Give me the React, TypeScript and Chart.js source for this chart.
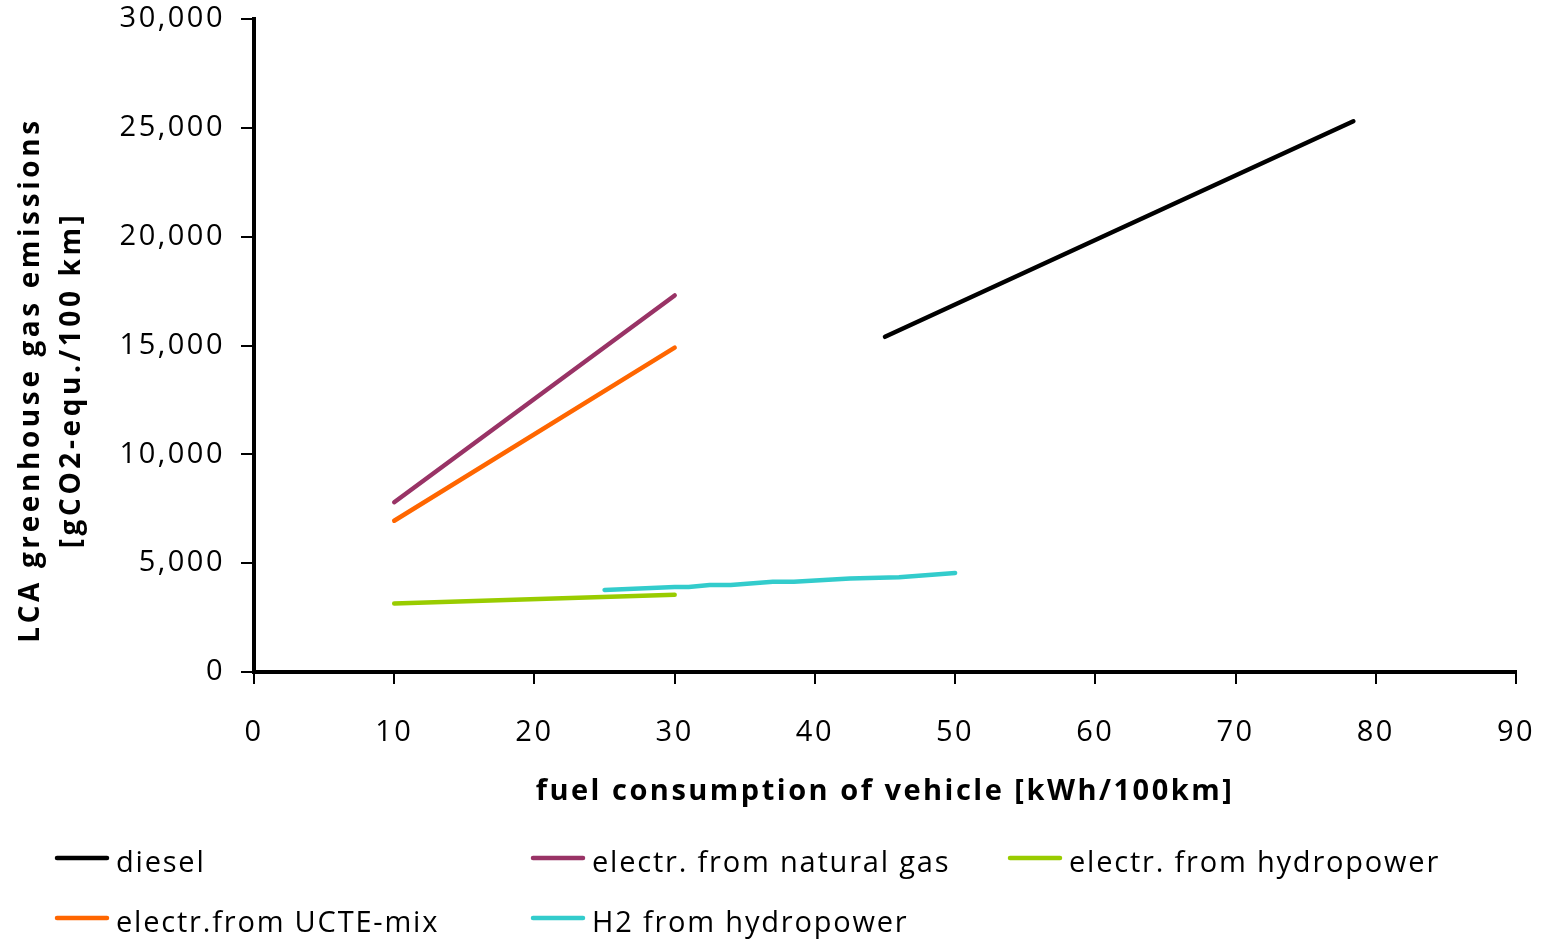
import React, { useEffect, useRef } from "react";
import { Chart, registerables } from "chart.js";

Chart.register(...registerables);

const seriesLabels = [
  "diesel",
  "electr. from natural gas",
  "electr. from hydropower",
  "electr.from UCTE-mix",
  "H2 from hydropower",
];
const seriesColors = ["#000000", "#993366", "#99cc00", "#ff6600", "#33cccc"];

const dieselX = [45, 78.4];
const dieselY = [15400, 25300];
const natGasX = [10, 30];
const natGasY = [7800, 17300];
const hydroElX = [10, 30];
const hydroElY = [3150, 3550];
const ucteX = [10, 30];
const ucteY = [6950, 14900];
const h2X = [25, 30, 31, 32.5, 34, 37, 38.5, 42.5, 46, 50];
const h2Y = [3770, 3900, 3900, 4000, 4000, 4150, 4150, 4300, 4350, 4550];

const xTicks = [0, 10, 20, 30, 40, 50, 60, 70, 80, 90];
const yTicks = [0, 5000, 10000, 15000, 20000, 25000, 30000];

const yTitleLines = ["LCA greenhouse gas emissions", "[gCO2-equ./100 km]"];
const xTitle = "fuel consumption of vehicle [kWh/100km]";

const FONT = "'Open Sans', 'Liberation Sans', sans-serif";

function pts(xs: number[], ys: number[]) {
  return xs.map((x, i) => ({ x, y: ys[i] }));
}

const customPlugin = {
  id: "custom",
  beforeDraw(chart: any) {
    chart.ctx.letterSpacing = "2.5px";
  },
  afterDraw(chart: any) {
    const ctx = chart.ctx;
    ctx.save();
    // Y title
    ctx.fillStyle = "#000";
    ctx.font = `bold 28px ${FONT}`;
    ctx.letterSpacing = "3.6px";
    ctx.textAlign = "center";
    ctx.textBaseline = "middle";
    const cx = [31, 72];
    yTitleLines.forEach((line, i) => {
      ctx.save();
      ctx.translate(cx[i], 380);
      ctx.rotate(-Math.PI / 2);
      ctx.fillText(line, 0, 0);
      ctx.restore();
    });
    // Legend
    const colX = [57, 533, 1010];
    const rowY = [864, 924];
    ctx.font = `29px ${FONT}`;
    ctx.letterSpacing = "1.8px";
    ctx.textAlign = "left";
    chart.data.datasets.forEach((ds: any, k: number) => {
      const x = colX[k % 3];
      const y = rowY[Math.floor(k / 3)];
      ctx.strokeStyle = ds.borderColor;
      ctx.lineWidth = 4.5;
      ctx.lineCap = "round";
      ctx.beginPath();
      ctx.moveTo(x, y - 6);
      ctx.lineTo(x + 50, y - 6);
      ctx.stroke();
      ctx.fillStyle = "#000";
      ctx.fillText(ds.label, x + 59, y);
    });
    ctx.restore();
  },
};

export default function App() {
  const ref = useRef<HTMLCanvasElement>(null);
  useEffect(() => {
    document.body.style.margin = "0";
    const xs = [dieselX, natGasX, hydroElX, ucteX, h2X];
    const ys = [dieselY, natGasY, hydroElY, ucteY, h2Y];
    const chart = new Chart(ref.current!, {
      type: "scatter",
      data: {
        datasets: seriesLabels.map((label, i) => ({
          label,
          data: pts(xs[i], ys[i]),
          showLine: true,
          borderColor: seriesColors[i],
          backgroundColor: seriesColors[i],
          borderWidth: 4.5,
          borderCapStyle: "round",
          borderJoinStyle: "round",
          pointRadius: 0,
          pointHoverRadius: 0,
          tension: 0,
        })),
      } as any,
      options: {
        animation: false,
        responsive: false,
        maintainAspectRatio: false,
        layout: { autoPadding: false, padding: { top: 19, right: 28, bottom: 120, left: 0 } },
        plugins: {
          legend: { display: false },
          tooltip: { enabled: false },
        },
        scales: {
          x: {
            type: "linear",
            min: 0,
            max: 90,
            afterBuildTicks: (s: any) => {
              s.ticks = xTicks.map((v) => ({ value: v }));
            },
            afterFit: (s: any) => {
              s.height = 151;
              s.paddingLeft = 0;
              s.paddingRight = 0;
            },
            border: { display: true, color: "#000", width: 4 },
            grid: {
              display: true,
              drawOnChartArea: false,
              drawTicks: true,
              tickLength: 12,
              color: "#000",
              lineWidth: 2,
            },
            ticks: {
              color: "#000",
              font: { family: FONT, size: 29 },
              padding: 31,
              maxRotation: 0,
              callback: (v: any) => String(v),
            },
            title: {
              display: true,
              text: xTitle,
              color: "#000",
              font: { family: FONT, size: 29, weight: "bold" },
              padding: { top: 0, bottom: 14 },
            },
          },
          y: {
            type: "linear",
            min: 0,
            max: 30000,
            afterBuildTicks: (s: any) => {
              s.ticks = yTicks.map((v) => ({ value: v }));
            },
            afterFit: (s: any) => {
              s.width = 254;
              s.paddingTop = 0;
              s.paddingBottom = 0;
            },
            border: { display: true, color: "#000", width: 4 },
            grid: {
              display: true,
              drawOnChartArea: false,
              drawTicks: true,
              tickLength: 13,
              color: "#000",
              lineWidth: 2,
            },
            ticks: {
              color: "#000",
              font: { family: FONT, size: 29 },
              padding: 16,
              callback: (v: any) => Number(v).toLocaleString("en-US"),
            },
          },
        },
      } as any,
      plugins: [customPlugin],
    });
    return () => chart.destroy();
  }, []);
  return (
    <div style={{ width: 1544, height: 943 }}>
      <canvas ref={ref} width={1544} height={943} style={{ display: "block" }} />
    </div>
  );
}
